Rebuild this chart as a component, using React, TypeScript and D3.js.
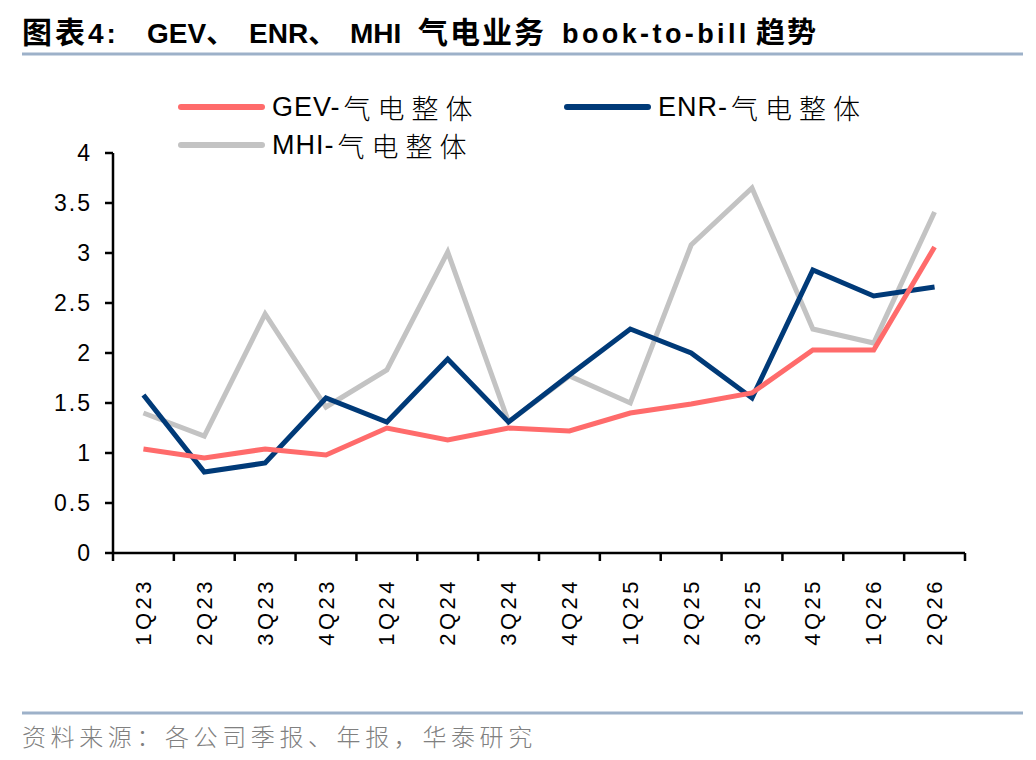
import * as d3 from 'd3'

const QUARTERS = ['1Q23', '2Q23', '3Q23', '4Q23', '1Q24', '2Q24', '3Q24', '4Q24', '1Q25', '2Q25', '3Q25', '4Q25', '1Q26', '2Q26']
const GEV = [1.04, 0.95, 1.04, 0.98, 1.25, 1.13, 1.25, 1.22, 1.4, 1.49, 1.6, 2.03, 2.03, 3.06]
const ENR = [1.58, 0.81, 0.9, 1.55, 1.31, 1.94, 1.31, 1.78, 2.24, 2.0, 1.55, 2.83, 2.57, 2.66]
const MHI = [1.4, 1.17, 2.39, 1.46, 1.83, 3.01, 1.31, 1.77, 1.5, 3.08, 3.65, 2.24, 2.1, 3.41]
const Y_TICKS = [0, 0.5, 1, 1.5, 2, 2.5, 3, 3.5, 4]

const SERIES = [
  { code: 'GEV-', label: '气电整体', values: GEV, color: '#FF6B6B' },
  { code: 'ENR-', label: '气电整体', values: ENR, color: '#003A78' },
  { code: 'MHI-', label: '气电整体', values: MHI, color: '#C3C3C3' },
]

const WIDTH = 1036
const HEIGHT = 760
const MARGIN = { top: 153, right: 71, bottom: 207, left: 113 }
const FONT = '"Liberation Sans", Arial, "Noto Sans CJK SC", sans-serif'
const CJK = '"Noto Sans CJK SC", sans-serif'
const RULE = '#9DB1C9'

export default function App() {
  const x = d3.scaleBand<string>()
    .domain(QUARTERS)
    .range([MARGIN.left, WIDTH - MARGIN.right])

  const y = d3.scaleLinear()
    .domain([0, 4])
    .range([HEIGHT - MARGIN.bottom, MARGIN.top])

  const line = d3.line<number>()
    .x((_, i) => (x(QUARTERS[i]) ?? 0) + x.bandwidth() / 2)
    .y(d => y(d))

  const y0 = y(0)
  const xEnd = WIDTH - MARGIN.right

  // legend slots
  const legendPos = [
    { x: 181, y: 107 },
    { x: 567, y: 107 },
    { x: 181, y: 145 },
  ]

  return (
    <svg
      width={WIDTH}
      height={HEIGHT}
      viewBox={`0 0 ${WIDTH} ${HEIGHT}`}
      style={{ position: 'absolute', left: 0, top: 0, background: '#fff', fontFamily: FONT }}
    >
      {/* Title */}
      <text y={43} fontSize={28} fontWeight="bold" fill="#000">
        <tspan x={22} fontFamily={CJK} fontSize={30} letterSpacing={3}>图表</tspan>
        <tspan letterSpacing={3}>4:</tspan>
        <tspan x={147}>GEV</tspan>
        <tspan fontFamily={CJK}>、</tspan>
        <tspan x={249}>ENR</tspan>
        <tspan fontFamily={CJK}>、</tspan>
        <tspan x={350}>MHI</tspan>
        <tspan x={418} fontFamily={CJK} fontSize={30} letterSpacing={2}>气电业务</tspan>
        <tspan x={562} fontSize={27} letterSpacing={3.4}>book-to-bill</tspan>
        <tspan x={756} fontFamily={CJK} fontSize={29} letterSpacing={2}>趋势</tspan>
      </text>
      <line x1={22} x2={1023} y1={54} y2={54} stroke={RULE} strokeWidth={3} />

      {/* Legend */}
      {SERIES.map((s, i) => (
        <g key={s.code}>
          <line
            x1={legendPos[i].x}
            x2={legendPos[i].x + 81}
            y1={legendPos[i].y}
            y2={legendPos[i].y}
            stroke={s.color}
            strokeWidth={6}
            strokeLinecap="round"
          />
          <text
            x={legendPos[i].x + 91}
            y={legendPos[i].y}
            dominantBaseline="central"
            fontSize={27}
            fill="#000"
          >
            <tspan letterSpacing={1}>{s.code}</tspan>
            <tspan dx={3} fontFamily={CJK} fontWeight={300} letterSpacing={7}>{s.label}</tspan>
          </text>
        </g>
      ))}

      {/* Y axis */}
      <line x1={MARGIN.left} x2={MARGIN.left} y1={y(4)} y2={y0} stroke="#000" strokeWidth={2.5} />
      {Y_TICKS.map(t => (
        <g key={`y-${t}`}>
          <line x1={MARGIN.left - 8} x2={MARGIN.left} y1={y(t)} y2={y(t)} stroke="#000" strokeWidth={2.5} />
          <text
            x={MARGIN.left - 21}
            y={y(t)}
            textAnchor="end"
            dominantBaseline="central"
            fontSize={23}
            letterSpacing={2}
            fill="#000"
          >
            {t}
          </text>
        </g>
      ))}

      {/* X axis */}
      <line x1={MARGIN.left} x2={xEnd} y1={y0} y2={y0} stroke="#000" strokeWidth={2.5} />
      {[...QUARTERS.map(q => x(q) ?? 0), xEnd].map((px, i) => (
        <line key={`xt-${i}`} x1={px} x2={px} y1={y0} y2={y0 + 8} stroke="#000" strokeWidth={2.5} />
      ))}
      {QUARTERS.map(q => {
        const cx = (x(q) ?? 0) + x.bandwidth() / 2
        return (
          <text
            key={`xl-${q}`}
            transform={`translate(${cx},${y0 + 25}) rotate(-90)`}
            textAnchor="end"
            dominantBaseline="central"
            fontSize={22}
            letterSpacing={3.5}
            fill="#000"
          >
            {q}
          </text>
        )
      })}

      {/* Series: MHI first, then ENR, GEV on top */}
      {[SERIES[2], SERIES[1], SERIES[0]].map(s => (
        <path
          key={`line-${s.code}`}
          d={line(s.values) || ''}
          fill="none"
          stroke={s.color}
          strokeWidth={5}
          strokeLinejoin="miter"
        />
      ))}

      {/* Footer */}
      <line x1={22} x2={1023} y1={713} y2={713} stroke={RULE} strokeWidth={3} />
      <text x={22} y={746} fontSize={24} fill="#808080" fontFamily={CJK} fontWeight={300} letterSpacing={4.6}>
        资料来源：各公司季报、年报，华泰研究
      </text>
    </svg>
  )
}
